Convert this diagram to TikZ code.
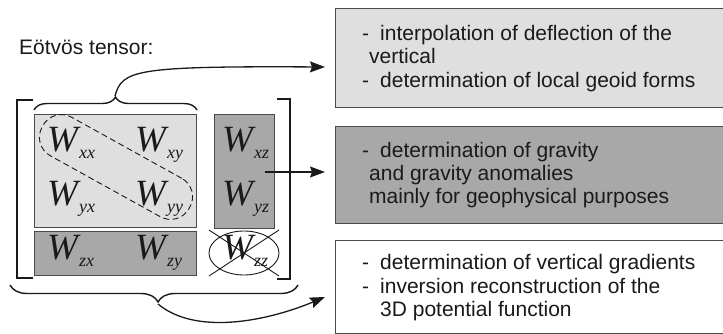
\documentclass[tikz,border=0pt]{standalone}
\usepackage{fontspec}
\setmainfont{Liberation Sans}
\newfontfamily\wfont{Liberation Serif}
\usepackage{tikz}
\usetikzlibrary{decorations.pathreplacing}
\usetikzlibrary{shapes.geometric}
\usetikzlibrary{arrows.meta}
\definecolor{LIGHTGRAY}{HTML}{DFDFDF}
\definecolor{DARKGRAY}{HTML}{A8A8A8}
\definecolor{FRAME}{HTML}{4A4A4A}
\definecolor{INK}{HTML}{1A1A1A}
\newcommand{\Wc}[1]{{\wfont\itshape\fontsize{37}{37}\selectfont W}\hspace{1pt}\raisebox{-6.5pt}{\wfont\itshape\fontsize{18}{18}\selectfont #1}}
\newcommand{\dash}{\makebox[18pt][l]{-}}
\tikzset{
  cell/.style={draw=FRAME, line width=1.2pt, anchor=north west, inner sep=0pt},
  usebox/.style={draw=FRAME, line width=1.2pt, anchor=north west, inner sep=0pt, minimum width=400pt},
  usetext/.style={anchor=base west, align=left, inner sep=0pt, font=\fontsize{21}{23.5}\selectfont, text=INK},
  comp/.style={anchor=base west, inner sep=0pt, text=INK},
  arr/.style={INK, line width=1.3pt, -{Stealth[length=15pt, width=11pt, inset=2pt]}},
  bracket/.style={INK, line width=1.4pt},
}
\begin{document}
\begin{tikzpicture}[x=1pt, y=-1pt]
    \useasboundingbox (0,0) rectangle (723,334);
    % title
    \node[anchor=base west, inner sep=0pt, font=\fontsize{21}{24}\selectfont, text=INK] (title) at (19,55) {Eötvös tensor:};
    % tensor blocks
    \node[cell, fill=LIGHTGRAY, minimum width=162pt, minimum height=113pt] (horiz) at (34,114) {};
    \node[cell, fill=DARKGRAY, minimum width=60pt, minimum height=114pt] (vert) at (214,114) {};
    \node[cell, fill=DARKGRAY, minimum width=162pt, minimum height=44pt] (zrow) at (34,231) {};
    % components
    \node[comp] (wxx) at (47,151.5) {\Wc{xx}};
    \node[comp] (wxy) at (135,151.5) {\Wc{xy}};
    \node[comp] (wyx) at (47,205.5) {\Wc{yx}};
    \node[comp] (wyy) at (135,205.5) {\Wc{yy}};
    \node[comp] (wxz) at (222,151.5) {\Wc{xz}};
    \node[comp] (wyz) at (222,205.5) {\Wc{yz}};
    \node[comp] (wzx) at (47,259.5) {\Wc{zx}};
    \node[comp] (wzy) at (135,259.5) {\Wc{zy}};
    \node[comp] (wzz) at (222,259.5) {\Wc{zz}};
    % diagonal loop, struck out W_zz
    \node[draw=INK, line width=0.9pt, dash pattern=on 6pt off 3.5pt, rounded corners=21pt,
          minimum width=168pt, minimum height=44pt, rotate=-29] (diag) at (116,167) {};
    \node[draw=INK, ellipse, line width=0.9pt, minimum width=70pt, minimum height=44pt, inner sep=0pt] (zzring) at (244,253) {};
    \draw[INK, line width=0.9pt] (209,230) -- (279,276);
    \draw[INK, line width=0.9pt] (209,276) -- (279,230);
    % brackets and braces
    \draw[bracket] (33,100) -- (17,100) -- (17,278) -- (33,278);
    \draw[bracket] (277,99) -- (290,99) -- (290,279) -- (277,279);
    \draw[bracket, decorate, decoration={brace, amplitude=13pt}] (34,110) -- (197,110);
    \draw[bracket, decorate, decoration={brace, amplitude=17pt, aspect=0.486}] (298,285) -- (10,285);
    \coordinate (toptip) at (115,96);
    \coordinate (bottip) at (158,304);
    \coordinate (midstart) at (265,172);
    % applications
    \node[usebox, fill=LIGHTGRAY, minimum height=99pt] (use1) at (335,8) {};
    \node[usebox, fill=DARKGRAY, minimum height=97pt] (use2) at (335,126) {};
    \node[usebox, fill=white, minimum height=93pt] (use3) at (335,240) {};
    \node[usetext] (txt1) at (362,87.5) {\dash interpolation of deflection of the\\\hspace*{7pt}vertical\\\dash determination of local geoid forms};
    \node[usetext] (txt2) at (362,204) {\dash determination of gravity\\\hspace*{7pt}and gravity anomalies\\\hspace*{7pt}mainly for geophysical purposes};
    \node[usetext] (txt3) at (362,316.5) {\dash determination of vertical gradients\\\dash inversion reconstruction of the\\\hspace*{18pt}3D potential function};
    \coordinate (in1) at (325,67);
    \coordinate (in2) at (325,172);
    \coordinate (in3) at (325,297);
    % arrows
    \draw[arr] (toptip) .. controls (122,70) and (135,66) .. (in1);
    \draw[arr] (midstart) -- (in2);
    \draw[arr] (bottip) .. controls (195,335) and (265,322) .. (in3);
\end{tikzpicture}
\end{document}
